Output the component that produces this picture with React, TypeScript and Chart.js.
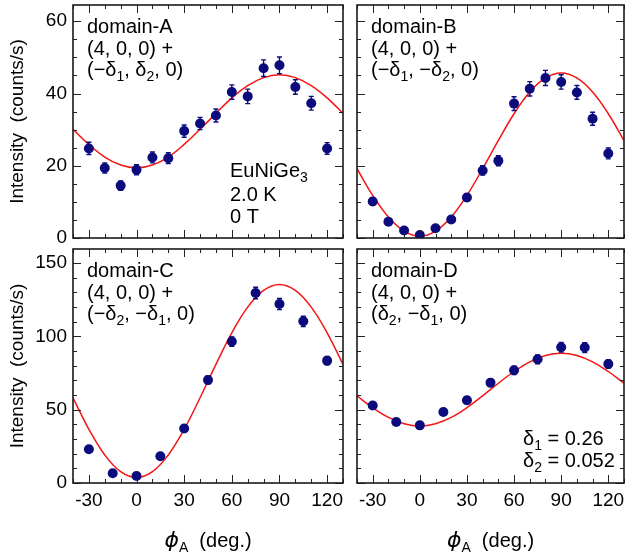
import React, { useEffect, useRef } from "react";
import { Chart, registerables } from "chart.js";

Chart.register(...registerables);

// ---------- data ----------
const phiTop = [-30, -20, -10, 0, 10, 20, 30, 40, 50, 60, 70, 80, 90, 100, 110, 120];
const intensityA = [24.8, 19.4, 14.5, 18.9, 22.3, 22.1, 29.6, 31.7, 33.9, 40.4, 39.2, 47.0, 47.8, 41.8, 37.3, 24.8];
const errorA = [1.7, 1.4, 1.3, 1.4, 1.5, 1.5, 1.7, 1.7, 1.8, 2.0, 2.0, 2.3, 2.3, 2.0, 1.9, 1.6];
const intensityB = [10.1, 4.5, 2.1, 0.8, 2.7, 5.1, 11.2, 18.7, 21.4, 37.2, 41.3, 44.3, 43.2, 40.3, 33.0, 23.4];
const errorB = [0.9, 0.7, 0.5, 0.5, 0.6, 0.7, 1.0, 1.3, 1.4, 1.9, 2.0, 2.1, 2.0, 1.9, 1.8, 1.5];

const phiBottom = [-30, -15, 0, 15, 30, 45, 60, 75, 90, 105, 120];
const intensityC = [23.0, 6.6, 4.8, 18.2, 37.1, 70.2, 96.4, 129.5, 122.0, 110.2, 83.4];
const errorC = [1.5, 1.0, 1.0, 1.4, 2.0, 2.7, 3.2, 3.9, 3.8, 3.5, 2.9];
const intensityD = [52.8, 41.6, 39.3, 48.4, 56.4, 68.4, 76.8, 84.3, 92.5, 92.3, 81.1];
const errorD = [2.3, 2.0, 2.0, 2.2, 2.4, 2.6, 2.8, 3.0, 3.3, 3.3, 2.9];

const phiFit = [-40, -30, -20, -10, 0, 10, 20, 30, 40, 50, 60, 70, 80, 90, 100, 110, 120, 130];
const fitA = [30.1, 25.9, 22.4, 20.2, 19.4, 20.2, 22.4, 25.9, 30.1, 34.5, 38.8, 42.2, 44.4, 45.2, 44.4, 42.2, 38.8, 34.5];
const fitB = [19.2, 11.8, 5.8, 1.9, 0.5, 1.9, 5.8, 11.8, 19.2, 27.0, 34.4, 40.4, 44.3, 45.7, 44.3, 40.4, 34.4, 27.0];
const fitC = [58.1, 36.6, 19.1, 7.7, 3.7, 7.7, 19.1, 36.6, 58.1, 80.9, 102.4, 119.9, 131.3, 135.3, 131.3, 119.9, 102.4, 80.9];
const fitD = [59.4, 51.3, 44.7, 40.4, 38.9, 40.4, 44.7, 51.3, 59.4, 68.0, 76.0, 82.6, 86.9, 88.4, 86.9, 82.6, 76.0, 68.0];

const xTickLabels = [-30, 0, 30, 60, 90, 120];
const xMinorTicks = [-40, -30, -20, -10, 0, 10, 20, 30, 40, 50, 60, 70, 80, 90, 100, 110, 120, 130];
const yTickLabelsTop = [0, 20, 40, 60];
const yMinorTop = [0, 5, 10, 15, 20, 25, 30, 35, 40, 45, 50, 55, 60];
const yTickLabelsBottom = [0, 50, 100, 150];
const yMinorBottom = [0, 10, 20, 30, 40, 50, 60, 70, 80, 90, 100, 110, 120, 130, 140, 150];

const X_MIN = -40;
const X_MAX = 130;
const Y_MAX_TOP = 64.5;
const Y_MAX_BOTTOM = 159.5;

const FONT = '"Liberation Sans", Arial, Helvetica, sans-serif';
const NAVY = "#0b0b7e";
const RED = "#f41414";

type Part = [string, "n" | "s" | "i"];
type Item = { dx: number; dy: number; parts: Part[] };

// ---------- plugins ----------
const framePlugin = {
  id: "frame",
  afterDatasetsDraw(chart: any, _args: any, opts: any) {
    const { ctx, chartArea: a, scales } = chart;
    const x = scales.x;
    const y = scales.y;
    ctx.save();
    ctx.strokeStyle = "#222";
    ctx.lineWidth = 1;
    const seg = (x1: number, y1: number, x2: number, y2: number) => {
      ctx.beginPath();
      ctx.moveTo(x1, y1);
      ctx.lineTo(x2, y2);
      ctx.stroke();
    };
    (opts.xMinor || []).forEach((v: number) => {
      const px = Math.round(x.getPixelForValue(v)) + 0.5;
      const len = (opts.xMajor || []).includes(v) ? 8 : 4;
      seg(px, a.bottom, px, a.bottom - len);
      seg(px, a.top, px, a.top + len);
    });
    (opts.yMinor || []).forEach((v: number) => {
      const py = Math.round(y.getPixelForValue(v)) + 0.5;
      const len = (opts.yMajor || []).includes(v) ? 8 : 4;
      seg(a.left, py, a.left + len, py);
      seg(a.right, py, a.right - len, py);
    });
    ctx.lineWidth = 1.6;
    ctx.strokeStyle = "#1a1a1a";
    ctx.strokeRect(a.left, a.top, a.right - a.left, a.bottom - a.top);
    ctx.restore();
  },
};

const errorBarPlugin = {
  id: "errorBars",
  afterDatasetsDraw(chart: any) {
    const { ctx, scales } = chart;
    const x = scales.x;
    const y = scales.y;
    ctx.save();
    chart.data.datasets.forEach((ds: any) => {
      if (!ds.errors) return;
      ctx.strokeStyle = ds.backgroundColor;
      ctx.lineWidth = 1.4;
      ds.data.forEach((pt: any, i: number) => {
        const e = ds.errors[i];
        const px = x.getPixelForValue(pt.x);
        const y1 = y.getPixelForValue(pt.y - e);
        const y2 = y.getPixelForValue(pt.y + e);
        ctx.beginPath();
        ctx.moveTo(px, y1);
        ctx.lineTo(px, y2);
        ctx.moveTo(px - 2.5, y1);
        ctx.lineTo(px + 2.5, y1);
        ctx.moveTo(px - 2.5, y2);
        ctx.lineTo(px + 2.5, y2);
        ctx.stroke();
      });
    });
    ctx.restore();
  },
};

const richTextPlugin = {
  id: "richText",
  afterDraw(chart: any, _args: any, opts: any) {
    const { ctx, chartArea: a } = chart;
    const size = opts.size || 20;
    const fontFor = (k: string) =>
      k === "s"
        ? `${Math.round(size * 0.68)}px ${FONT}`
        : k === "i"
        ? `italic ${size + 2}px "DejaVu Sans", ${FONT}`
        : `${size}px ${FONT}`;
    ctx.save();
    ctx.fillStyle = "#000";
    ctx.textBaseline = "alphabetic";
    ctx.textAlign = "left";
    const drawParts = (parts: Part[], x0: number, by: number) => {
      let cx = x0;
      parts.forEach(([t, k]) => {
        ctx.font = fontFor(k);
        ctx.fillText(t, cx, k === "s" ? by + size * 0.24 : by);
        cx += ctx.measureText(t).width;
      });
    };
    (opts.items || []).forEach((it: Item) => {
      drawParts(it.parts, a.left + it.dx, a.top + it.dy);
    });
    if (opts.xTitle) {
      const parts: Part[] = opts.xTitle;
      let w = 0;
      parts.forEach(([t, k]) => {
        ctx.font = fontFor(k);
        w += ctx.measureText(t).width;
      });
      drawParts(parts, (a.left + a.right) / 2 - w / 2, opts.xTitleY);
    }
    ctx.restore();
  },
};

// ---------- panels ----------
type PanelSpec = {
  phi: number[];
  values: number[];
  errors: number[];
  fit: number[];
  yMax: number;
  yLabels: number[];
  yMinor: number[];
  showY: boolean;
  showX: boolean;
  padding: { left: number; right: number; top: number; bottom: number };
  items: Item[];
};

const label = (name: string, third: Part[]): Item[] => [
  { dx: 14, dy: 28, parts: [[name, "n"]] },
  { dx: 14, dy: 49.5, parts: [["(4, 0, 0) +", "n"]] },
  { dx: 14, dy: 71, parts: third },
];

const panels: PanelSpec[] = [
  {
    phi: phiTop, values: intensityA, errors: errorA, fit: fitA,
    yMax: Y_MAX_TOP, yLabels: yTickLabelsTop, yMinor: yMinorTop,
    showY: true, showX: false,
    padding: { left: 0, right: 286, top: 3, bottom: 317 },
    items: [
      ...label("domain-A", [["(−δ", "n"], ["1", "s"], [", δ", "n"], ["2", "s"], [", 0)", "n"]]),
      { dx: 157, dy: 172, parts: [["EuNiGe", "n"], ["3", "s"]] },
      { dx: 157, dy: 196, parts: [["2.0 K", "n"]] },
      { dx: 157, dy: 218, parts: [["0 T", "n"]] },
    ],
  },
  {
    phi: phiTop, values: intensityB, errors: errorB, fit: fitB,
    yMax: Y_MAX_TOP, yLabels: yTickLabelsTop, yMinor: yMinorTop,
    showY: false, showX: false,
    padding: { left: 357, right: 2, top: 3, bottom: 317 },
    items: label("domain-B", [["(−δ", "n"], ["1", "s"], [", −δ", "n"], ["2", "s"], [", 0)", "n"]]),
  },
  {
    phi: phiBottom, values: intensityC, errors: errorC, fit: fitC,
    yMax: Y_MAX_BOTTOM, yLabels: yTickLabelsBottom, yMinor: yMinorBottom,
    showY: true, showX: true,
    padding: { left: 0, right: 286, top: 249, bottom: 0 },
    items: label("domain-C", [["(−δ", "n"], ["2", "s"], [", −δ", "n"], ["1", "s"], [", 0)", "n"]]),
  },
  {
    phi: phiBottom, values: intensityD, errors: errorD, fit: fitD,
    yMax: Y_MAX_BOTTOM, yLabels: yTickLabelsBottom, yMinor: yMinorBottom,
    showY: false, showX: true,
    padding: { left: 357, right: 2, top: 249, bottom: 0 },
    items: [
      ...label("domain-D", [["(δ", "n"], ["2", "s"], [", −δ", "n"], ["1", "s"], [", 0)", "n"]]),
      { dx: 166, dy: 196, parts: [["δ", "n"], ["1", "s"], [" = 0.26", "n"]] },
      { dx: 166, dy: 218, parts: [["δ", "n"], ["2", "s"], [" = 0.052", "n"]] },
    ],
  },
];

function PanelChart({ spec }: { spec: PanelSpec }) {
  const ref = useRef<HTMLCanvasElement>(null);
  useEffect(() => {
    if (!ref.current) return;
    const chart = new Chart(ref.current, {
      type: "scatter",
      data: {
        datasets: [
          {
            data: spec.phi.map((p, i) => ({ x: p, y: spec.values[i] })),
            errors: spec.errors,
            backgroundColor: NAVY,
            borderColor: NAVY,
            borderWidth: 0,
            pointRadius: 5,
            showLine: false,
            order: 1,
          } as any,
          {
            data: phiFit.map((p, i) => ({ x: p, y: spec.fit[i] })),
            borderColor: RED,
            backgroundColor: RED,
            borderWidth: 1.5,
            pointRadius: 0,
            showLine: true,
            tension: 0.4,
            fill: false,
            order: 2,
          } as any,
        ],
      },
      options: {
        animation: false,
        responsive: false,
        events: [],
        layout: { padding: spec.padding },
        plugins: {
          legend: { display: false },
          tooltip: { enabled: false },
          frame: {
            xMinor: xMinorTicks, xMajor: xTickLabels,
            yMinor: spec.yMinor, yMajor: spec.yLabels,
          },
          richText: {
            size: 20,
            items: spec.items,
            xTitle: spec.showX ? [["ϕ", "i"], ["A", "s"], ["  (deg.)", "n"]] : null,
            xTitleY: 547,
          },
        } as any,
        scales: {
          x: {
            type: "linear",
            min: X_MIN,
            max: X_MAX,
            display: spec.showX,
            grid: { display: false, drawTicks: false },
            border: { display: false },
            ticks: { font: { family: FONT, size: 19 }, color: "#000", padding: 6, maxRotation: 0 },
            afterBuildTicks: (s: any) => { s.ticks = xTickLabels.map((v) => ({ value: v })); },
            afterFit: (s: any) => {
              s.height = spec.showX ? 72 : 0;
              s.paddingLeft = 0; s.paddingRight = 0; s.paddingTop = 0; s.paddingBottom = 0;
            },
          },
          y: {
            type: "linear",
            min: 0,
            max: spec.yMax,
            display: spec.showY,
            grid: { display: false, drawTicks: false },
            border: { display: false },
            ticks: { font: { family: FONT, size: 19 }, color: "#000", padding: 6 },
            afterBuildTicks: (s: any) => { s.ticks = spec.yLabels.map((v) => ({ value: v })); },
            afterFit: (s: any) => {
              s.width = spec.showY ? 73 : 0;
              s.paddingLeft = 0; s.paddingRight = 0; s.paddingTop = 0; s.paddingBottom = 0;
            },
            title: {
              display: true,
              text: "Intensity  (counts/s)",
              color: "#000",
              font: { family: FONT, size: 19 },
              padding: { top: 6, bottom: 0 },
            },
          },
        } as any,
      },
      plugins: [framePlugin, errorBarPlugin, richTextPlugin],
    });
    return () => chart.destroy();
  }, [spec]);
  return (
    <canvas
      ref={ref}
      width={629}
      height={555}
      style={{ position: "absolute", left: 0, top: 0, width: 629, height: 555 }}
    />
  );
}

export default function App() {
  return (
    <div style={{ position: "absolute", left: 0, top: 0, width: 629, height: 555, background: "#fff" }}>
      {panels.map((p, i) => (
        <PanelChart key={i} spec={p} />
      ))}
    </div>
  );
}
